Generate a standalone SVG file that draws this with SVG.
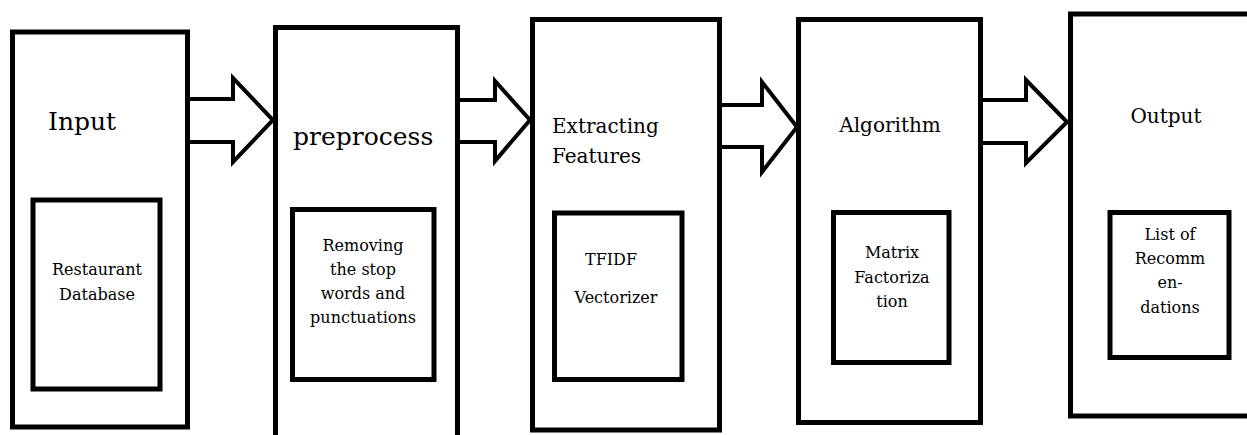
<svg xmlns="http://www.w3.org/2000/svg" width="1247" height="435" viewBox="0 0 1247 435">
<style>
.box{fill:#fff;stroke:#000;stroke-width:5}
.inner{fill:#fff;stroke:#000;stroke-width:5}
.arrow{fill:#fff;stroke:#000;stroke-width:4;stroke-linejoin:miter}
.t{font-size:25px}
.h{font-size:20px}
.s{font-size:16px;text-anchor:middle}
</style>
<rect width="1247" height="435" fill="#fff"/>
<g id="connectors">
<path class="arrow" d="M188,99 H233 V78 L273,120 L233,162 V142 H188"/>
<path class="arrow" d="M456,100 H495 V81 L530,120 L495,161 V142 H456"/>
<path class="arrow" d="M717,105 H762 V82 L797,127 L762,172 V147 H717"/>
<path class="arrow" d="M979,100 H1026 V80 L1067,122 L1026,163 V143 H979"/>
</g>
<g font-family="'DejaVu Serif', 'Liberation Serif', serif" fill="#000">
<g id="node-input">
<rect class="box" x="12.5" y="32" width="175" height="395"/>
<text class="t" x="48" y="130">Input</text>
<rect class="inner" x="33" y="200" width="127" height="189"/>
<text class="s" x="97" y="275">Restaurant</text>
<text class="s" x="97" y="300">Database</text>
</g>
<g id="node-preprocess">
<rect class="box" x="275.5" y="27.5" width="182" height="420"/>
<text class="t" x="293" y="145">preprocess</text>
<rect class="inner" x="292.5" y="209.5" width="141.5" height="170"/>
<text class="s" x="363" y="251">Removing</text>
<text class="s" x="363" y="275">the stop</text>
<text class="s" x="363" y="299">words and</text>
<text class="s" x="363" y="323">punctuations</text>
</g>
<g id="node-features">
<rect class="box" x="532.5" y="19.5" width="187" height="410.5"/>
<text class="h" x="552" y="133">Extracting</text>
<text class="h" x="552" y="163">Features</text>
<rect class="inner" x="554.5" y="213" width="127.5" height="166.5"/>
<text class="s" x="611" y="265">TFIDF</text>
<text class="s" x="616" y="303">Vectorizer</text>
</g>
<g id="node-algorithm">
<rect class="box" x="798.5" y="19.5" width="182" height="403"/>
<text class="h" x="890" y="132" text-anchor="middle">Algorithm</text>
<rect class="inner" x="833.5" y="212.5" width="115.5" height="150"/>
<text class="s" x="892" y="258">Matrix</text>
<text class="s" x="892" y="283">Factoriza</text>
<text class="s" x="892" y="307">tion</text>
</g>
<g id="node-output">
<rect class="box" x="1070.5" y="14" width="200" height="402"/>
<text class="h" x="1166" y="123" text-anchor="middle">Output</text>
<rect class="inner" x="1110" y="212.5" width="119" height="145"/>
<text class="s" x="1170" y="240">List of</text>
<text class="s" x="1170" y="264">Recomm</text>
<text class="s" x="1170" y="288">en-</text>
<text class="s" x="1170" y="313">dations</text>
</g>
</g>
</svg>
